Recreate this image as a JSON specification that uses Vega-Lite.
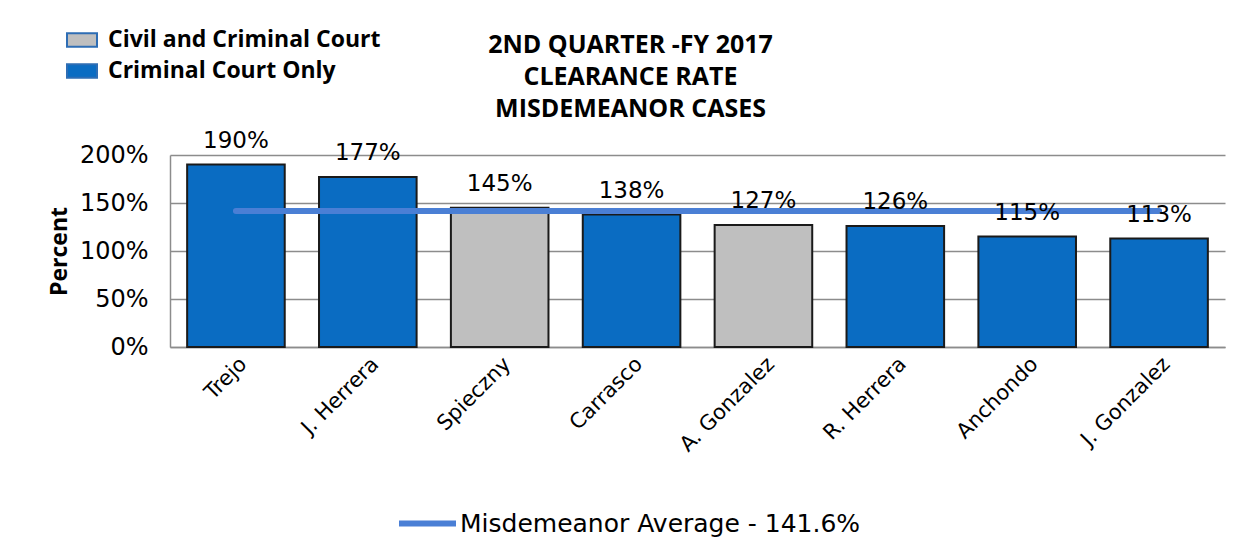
{
  "$schema": "https://vega.github.io/schema/vega-lite/v6.json",
  "width": 1055,
  "height": 192,
  "autosize": {"type": "none"},
  "padding": {"left": 170, "top": 155, "right": 26, "bottom": 211},
  "background": "white",
  "title": {
    "text": ["2ND QUARTER -FY 2017", "CLEARANCE RATE", "MISDEMEANOR CASES"],
    "anchor": "middle",
    "dx": -67,
    "offset": -98,
    "font": "Open Sans",
    "fontSize": 25,
    "fontWeight": "bold",
    "lineHeight": 32,
    "color": "#000000"
  },
  "data": {
    "values": [
      {"name": "Trejo", "rate": 190, "label": "190%", "court": "Criminal Court Only"},
      {"name": "J. Herrera", "rate": 177, "label": "177%", "court": "Criminal Court Only"},
      {"name": "Spieczny", "rate": 145, "label": "145%", "court": "Civil and Criminal Court"},
      {"name": "Carrasco", "rate": 138, "label": "138%", "court": "Criminal Court Only"},
      {"name": "A. Gonzalez", "rate": 127, "label": "127%", "court": "Civil and Criminal Court"},
      {"name": "R. Herrera", "rate": 126, "label": "126%", "court": "Criminal Court Only"},
      {"name": "Anchondo", "rate": 115, "label": "115%", "court": "Criminal Court Only"},
      {"name": "J. Gonzalez", "rate": 113, "label": "113%", "court": "Criminal Court Only"}
    ]
  },
  "encoding": {
    "x": {
      "field": "name",
      "type": "nominal",
      "sort": null,
      "scale": {"paddingInner": 0.26, "paddingOuter": 0.13},
      "axis": {
        "title": null,
        "labelAngle": -45,
        "labelFont": "DejaVu Sans",
        "labelFontSize": 21,
        "labelColor": "#000000",
        "labelPadding": 6,
        "ticks": false,
        "domain": true,
        "domainColor": "#8c8c8c",
        "domainWidth": 1.5
      }
    }
  },
  "layer": [
    {
      "mark": {"type": "bar", "stroke": "#1a1a1a", "strokeWidth": 2},
      "encoding": {
        "y": {
          "field": "rate",
          "type": "quantitative",
          "scale": {"domain": [0, 200]},
          "axis": {
            "values": [0, 50, 100, 150, 200],
            "labelExpr": "datum.value + '%'",
            "title": "Percent",
            "titleFont": "Open Sans",
            "titleFontSize": 23,
            "titleFontWeight": "bold",
            "titleColor": "#000000",
            "titlePadding": 8,
            "labelFont": "DejaVu Sans",
            "labelFontSize": 24,
            "labelColor": "#000000",
            "labelPadding": 22,
            "ticks": false,
            "domain": true,
            "domainColor": "#8c8c8c",
            "domainWidth": 1.5,
            "grid": true,
            "gridColor": "#8c8c8c",
            "gridWidth": 1.5
          }
        },
        "fill": {
          "field": "court",
          "type": "nominal",
          "scale": {
            "domain": ["Civil and Criminal Court", "Criminal Court Only"],
            "range": ["#BFBFBF", "#0A6CC2"]
          },
          "legend": {
            "title": null,
            "orient": "none",
            "legendX": -104,
            "legendY": -131,
            "padding": 0,
            "symbolType": "M-1,-0.45H1V0.45H-1Z",
            "symbolSize": 900,
            "symbolStrokeColor": "#2E6DB4",
            "symbolStrokeWidth": 2,
            "symbolOpacity": 1,
            "labelFont": "Open Sans",
            "labelFontSize": 23,
            "labelFontWeight": "bold",
            "labelColor": "#000000",
            "labelOffset": 10,
            "labelLimit": 0,
            "rowPadding": 3
          }
        }
      }
    },
    {
      "mark": {"type": "line", "strokeWidth": 6, "strokeCap": "round"},
      "encoding": {
        "y": {"datum": 141.6, "type": "quantitative"},
        "stroke": {
          "datum": "Misdemeanor Average - 141.6%",
          "type": "nominal",
          "scale": {"range": ["#4A7FD5"]},
          "legend": {
            "title": null,
            "orient": "none",
            "legendX": 226,
            "legendY": 337,
            "padding": 0,
            "symbolType": "stroke",
            "symbolSize": 3249,
            "symbolStrokeWidth": 6,
            "labelFont": "DejaVu Sans",
            "labelFontSize": 25,
            "labelColor": "#000000",
            "labelOffset": 1,
            "labelLimit": 0
          }
        }
      }
    },
    {
      "mark": {"type": "text", "baseline": "alphabetic", "dy": -17, "font": "DejaVu Sans", "fontSize": 23, "color": "#000000"},
      "encoding": {
        "y": {"field": "rate", "type": "quantitative"},
        "text": {"field": "label"}
      }
    }
  ],
  "config": {
    "view": {"stroke": null}
  }
}
